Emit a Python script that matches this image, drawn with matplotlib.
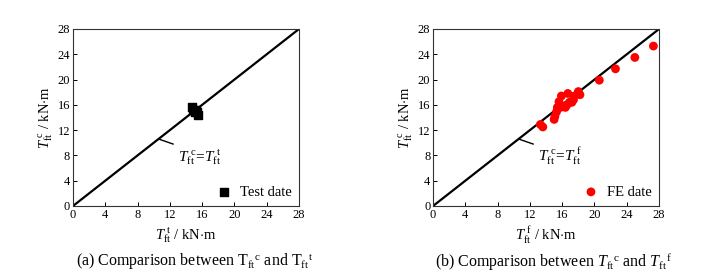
import numpy as np
import matplotlib as mpl
import matplotlib.pyplot as plt

mpl.rcParams.update({
    "font.family": ["Liberation Serif", "DejaVu Serif"],
    "mathtext.fontset": "custom",
    "mathtext.rm": "Liberation Serif",
    "mathtext.it": "Liberation Serif:italic",
    "mathtext.bf": "Liberation Serif:bold",
})

# test data (panel a)
test_x = [14.7, 14.9, 15.1, 15.3, 15.5, 15.4]
test_y = [15.7, 15.2, 14.9, 15.2, 14.4, 14.9]

# FE data (panel b)
fe_x = [13.3, 13.6, 15.0, 15.1, 15.3, 15.4, 15.6, 15.9, 15.8, 16.1, 16.4, 16.6,
        16.7, 16.9, 17.2, 17.4, 17.5, 18.0, 18.2, 20.6, 22.6, 25.0, 27.3]
fe_y = [12.9, 12.5, 13.7, 14.2, 14.9, 15.6, 16.5, 17.4, 15.6, 15.8, 15.6, 16.0,
        17.8, 16.4, 16.4, 16.8, 17.4, 18.1, 17.6, 19.9, 21.7, 23.5, 25.3]

ticks = [0, 4, 8, 12, 16, 20, 24, 28]

fig = plt.figure(figsize=(7.21, 2.78), dpi=100)
ax_a = fig.add_axes([0.1012, 0.259, 0.3135, 0.6367])
ax_b = fig.add_axes([0.6006, 0.259, 0.3135, 0.6367])


def style(ax, sup):
    ax.set_xlim(0, 28)
    ax.set_ylim(0, 28)
    ax.set_xticks(ticks)
    ax.set_yticks(ticks)
    ax.tick_params(direction="in", length=3, width=0.7, labelsize=9, pad=2)
    for s in ax.spines.values():
        s.set_linewidth(0.8)
        s.set_color("#333333")
    ax.plot([0, 28], [0, 28], color="black", lw=1.6, zorder=2)
    ax.set_xlabel(r"$T_{\mathrm{ft}}^{\ \mathrm{%s}}$ / kN$\cdot$m" % sup, fontsize=10.5, labelpad=3)
    ax.set_ylabel(r"$T_{\mathrm{ft}}^{\ \mathrm{c}}$ / kN$\cdot$m", fontsize=10.5, labelpad=2)
    ax.plot([10.6, 12.4], [10.6, 9.8], color="black", lw=1.0)
    ax.text(13.0, 7.8, r"$T_{\mathrm{ft}}^{\ \mathrm{c}}\!=\!T_{\mathrm{ft}}^{\ \mathrm{%s}}$" % sup,
            fontsize=11, ha="left", va="center")


style(ax_a, "t")
style(ax_b, "f")

ax_a.scatter(test_x, test_y, marker="s", s=30, color="black", zorder=3, label="Test date")
ax_b.scatter(fe_x, fe_y, marker="o", s=40, color="red", edgecolors="none", zorder=3, label="FE date")

for ax in (ax_a, ax_b):
    ax.legend(loc="lower right", frameon=False, fontsize=10.5, handletextpad=0.5,
              borderaxespad=0.1, handlelength=1.2, scatterpoints=1)

fig.text(0.270, 0.058, r"(a) Comparison between T$_{\mathrm{ft}}$$^{\mathrm{c}}$ and T$_{\mathrm{ft}}$$^{\mathrm{t}}$",
         ha="center", va="center", fontsize=11.5)
fig.text(0.768, 0.058, r"(b) Comparison between $T_{\mathrm{ft}}$$^{\mathrm{c}}$ and $T_{\mathrm{ft}}$$^{\mathrm{f}}$",
         ha="center", va="center", fontsize=11.5)

fig.savefig("out.png", dpi=100)
